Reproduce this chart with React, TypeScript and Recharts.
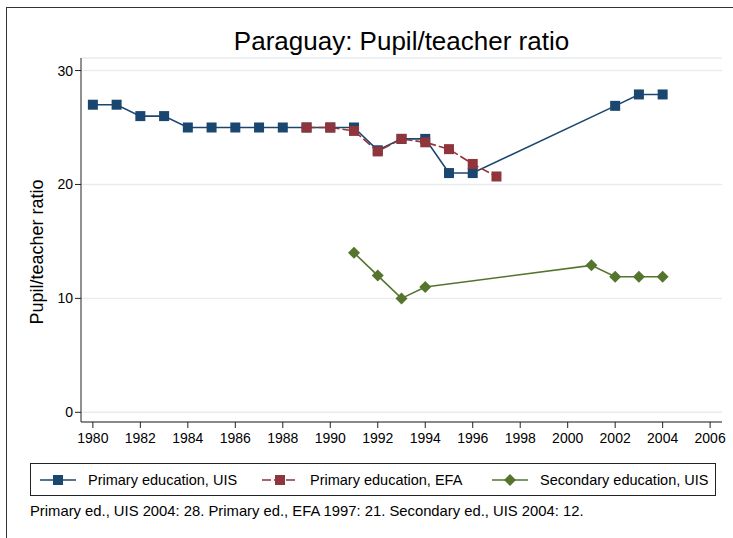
import React from "react";
import { CartesianGrid, Line, LineChart, XAxis, YAxis } from "recharts";

const uisYears = [1980, 1981, 1982, 1983, 1984, 1985, 1986, 1987, 1988, 1989, 1990, 1991, 1992, 1993, 1994, 1995, 1996, 2002, 2003, 2004];
const uisValues = [27, 27, 26, 26, 25, 25, 25, 25, 25, 25, 25, 25, 23, 24, 24, 21, 21, 26.9, 27.9, 27.9];

const efaYears = [1989, 1990, 1991, 1992, 1993, 1994, 1995, 1996, 1997];
const efaValues = [25, 25, 24.7, 22.9, 24, 23.7, 23.1, 21.8, 20.7];

const secYears = [1991, 1992, 1993, 1994, 2001, 2002, 2003, 2004];
const secValues = [14, 12, 10, 11, 12.9, 11.9, 11.9, 11.9];

const xTicks = [1980, 1982, 1984, 1986, 1988, 1990, 1992, 1994, 1996, 1998, 2000, 2002, 2004, 2006];
const yTicks = [0, 10, 20, 30];

const BLUE = "#1a476f";
const RED = "#90353b";
const GREEN = "#55752f";

const legendItems = [
  { name: "Primary education, UIS", color: BLUE, marker: "square", dash: undefined },
  { name: "Primary education, EFA", color: RED, marker: "square", dash: "9 3" },
  { name: "Secondary education, UIS", color: GREEN, marker: "diamond", dash: undefined },
];

const note = "Primary ed., UIS 2004: 28. Primary ed., EFA 1997: 21. Secondary ed., UIS 2004: 12.";

// one row per year, series left empty where they have no value
const allYears = Array.from(new Set([...uisYears, ...efaYears, ...secYears])).sort((a, b) => a - b);
const data = allYears.map((year) => ({
  year,
  uis: uisYears.includes(year) ? uisValues[uisYears.indexOf(year)] : null,
  efa: efaYears.includes(year) ? efaValues[efaYears.indexOf(year)] : null,
  sec: secYears.includes(year) ? secValues[secYears.indexOf(year)] : null,
}));

function squareDot(color: string) {
  return (props: any) => {
    const { cx, cy, index, value } = props;
    if (cx == null || cy == null || value == null) return <g key={`s-${index}`} />;
    return <rect key={`s-${index}`} x={cx - 5} y={cy - 5} width={10} height={10} fill={color} />;
  };
}

function diamondDot(color: string) {
  return (props: any) => {
    const { cx, cy, index, value } = props;
    if (cx == null || cy == null || value == null) return <g key={`d-${index}`} />;
    const r = 6;
    return (
      <path
        key={`d-${index}`}
        d={`M${cx},${cy - r}L${cx + r},${cy}L${cx},${cy + r}L${cx - r},${cy}Z`}
        fill={color}
      />
    );
  };
}

function LegendIcon({ color, marker, dash }: { color: string; marker: string; dash?: string }) {
  return (
    <svg width={36} height={14} style={{ display: "block" }}>
      <line x1={0} y1={7} x2={36} y2={7} stroke={color} strokeWidth={1.6} strokeDasharray={dash} />
      {marker === "square" ? (
        <rect x={13} y={2} width={10} height={10} fill={color} />
      ) : (
        <path d="M18,1L24,7L18,13L12,7Z" fill={color} />
      )}
    </svg>
  );
}

export default function App() {
  return (
    <div
      style={{
        position: "absolute",
        left: 0,
        top: 0,
        width: 733,
        height: 538,
        overflow: "hidden",
        background: "#fff",
        fontFamily: "'Liberation Sans', Arial, sans-serif",
        color: "#000",
      }}
    >
      <div
        style={{
          position: "absolute",
          left: 6,
          top: 7,
          width: 900,
          height: 700,
          borderTop: "1px solid #333",
          borderLeft: "1px solid #333",
        }}
      />
      <div
        style={{
          position: "absolute",
          left: 81,
          width: 641,
          top: 26,
          textAlign: "center",
          fontSize: 26,
          lineHeight: "30px",
        }}
      >
        Paraguay: Pupil/teacher ratio
      </div>
      <div
        style={{
          position: "absolute",
          left: 37,
          top: 252,
          transform: "translate(-50%, -50%) rotate(-90deg)",
          fontSize: 18,
          whiteSpace: "nowrap",
        }}
      >
        Pupil/teacher ratio
      </div>
      <div style={{ position: "absolute", left: 0, top: 0 }}>
        <LineChart width={733} height={538} data={data} margin={{ top: 58, right: 11, bottom: 86, left: 31 }}>
          <CartesianGrid vertical={false} stroke="#e6edf1" strokeWidth={1.5} />
          <XAxis
            dataKey="year"
            type="number"
            domain={[1979.5, 2006.5]}
            ticks={xTicks}
            interval={0}
            height={30}
            stroke="#222"
            tickSize={6}
            tickMargin={5}
            tick={{ fill: "#000", fontSize: 14 }}
          />
          <YAxis
            type="number"
            domain={[-0.85, 31.1]}
            allowDataOverflow
            ticks={yTicks}
            interval={0}
            width={50}
            stroke="#222"
            tickSize={6}
            tick={{ fill: "#000", fontSize: 14 }}
          />
          <Line
            dataKey="uis"
            stroke={BLUE}
            strokeWidth={1.6}
            connectNulls
            dot={squareDot(BLUE)}
            activeDot={false}
            isAnimationActive={false}
          />
          <Line
            dataKey="efa"
            stroke={RED}
            strokeWidth={1.6}
            strokeDasharray="9 3"
            connectNulls
            dot={squareDot(RED)}
            activeDot={false}
            isAnimationActive={false}
          />
          <Line
            dataKey="sec"
            stroke={GREEN}
            strokeWidth={1.6}
            connectNulls
            dot={diamondDot(GREEN)}
            activeDot={false}
            isAnimationActive={false}
          />
        </LineChart>
      </div>
      <div
        style={{
          position: "absolute",
          left: 30,
          top: 463,
          width: 684,
          height: 31,
          border: "1px solid #222",
          display: "flex",
          alignItems: "center",
          fontSize: 14.5,
        }}
      >
        {legendItems.map((item, i) => (
          <div
            key={item.name}
            style={{ display: "flex", alignItems: "center", position: "absolute", left: [9, 231, 461][i] }}
          >
            <LegendIcon color={item.color} marker={item.marker} dash={item.dash} />
            <span style={{ marginLeft: 12, whiteSpace: "nowrap" }}>{item.name}</span>
          </div>
        ))}
      </div>
      <div style={{ position: "absolute", left: 30, top: 503, fontSize: 14.8, whiteSpace: "nowrap" }}>{note}</div>
    </div>
  );
}
